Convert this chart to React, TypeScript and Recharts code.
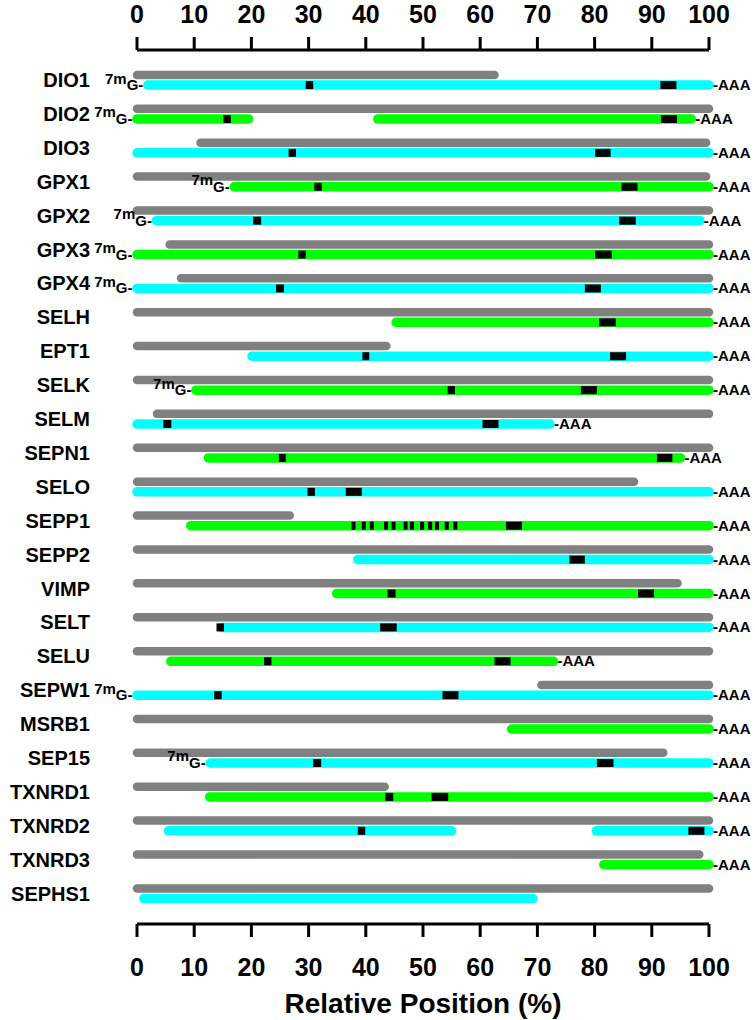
import { ComposedChart, XAxis, YAxis, Scatter, ReferenceLine } from "recharts";

const FONT = '"Liberation Sans", Arial, Helvetica, sans-serif';

const genes = [
  "DIO1", "DIO2", "DIO3", "GPX1", "GPX2", "GPX3", "GPX4", "SELH", "EPT1", "SELK",
  "SELM", "SEPN1", "SELO", "SEPP1", "SEPP2", "VIMP", "SELT", "SELU", "SEPW1", "MSRB1",
  "SEP15", "TXNRD1", "TXNRD2", "TXNRD3", "SEPHS1",
];

// upper grey bar per gene [start, end] in %
const grayBars: [number, number][] = [
  [0, 62.5], [0, 100], [11.1, 99.5], [0, 99.5], [0, 100], [5.7, 100], [7.7, 100], [0, 100], [0, 43.6], [0, 100],
  [3.5, 100], [0, 100], [0, 86.9], [0, 26.7], [0, 100], [0, 94.5], [0, 100], [0, 100], [70.7, 100], [0, 100],
  [0, 92], [0, 43.3], [0, 100], [0, 98.3], [0, 100],
];

// lower coloured bar(s) per gene
const exonBars: [number, number][][] = [
  [[1.9, 100]], [[0, 19.5], [42.1, 96.9]], [[0, 100]], [[17, 100]], [[3.4, 98.4]],
  [[0, 100]], [[0, 100]], [[45.3, 100]], [[20.1, 100]], [[10.3, 100]],
  [[0, 72.2]], [[12.5, 95]], [[0, 100]], [[9.4, 100]], [[38.6, 100]],
  [[34.9, 100]], [[14.8, 100]], [[5.9, 72.8]], [[0, 100]], [[65.5, 100]],
  [[12.8, 100]], [[12.7, 100]], [[5.5, 55], [80.3, 100]], [[81.6, 100]], [[1.2, 69.2]],
];

const exonColor = [
  "cyan", "green", "cyan", "green", "cyan", "green", "cyan", "green", "cyan", "green",
  "cyan", "green", "cyan", "green", "cyan", "green", "cyan", "green", "cyan", "green",
  "cyan", "green", "cyan", "green", "cyan",
];

// black marks on the coloured bar
const secMarks: [number, number][][] = [
  [[29.5, 30.8], [91.5, 94.3]],
  [[15.1, 16.4], [91.6, 94.4]],
  [[26.5, 27.8], [80.1, 82.8]],
  [[31, 32.3], [84.7, 87.5]],
  [[20.3, 21.7], [84.3, 87.2]],
  [[28.2, 29.5], [80.1, 83]],
  [[24.3, 25.7], [78.3, 81.1]],
  [[80.8, 83.7]],
  [[39.4, 40.6], [82.7, 85.5]],
  [[54.3, 55.6], [77.6, 80.4]],
  [[4.6, 6], [60.4, 63.2]],
  [[24.8, 26], [90.9, 93.6]],
  [[29.8, 31.1], [36.5, 39.3]],
  [
    [37.5, 38.2], [39.3, 40], [40.7, 41.4], [43.2, 43.9], [44.5, 45.2], [46.6, 47.3],
    [47.7, 48.4], [49.5, 50.2], [50.9, 51.6], [52.1, 52.8], [53.8, 54.5], [55.3, 56], [64.5, 67.3],
  ],
  [[75.6, 78.3]],
  [[43.8, 45.2], [87.6, 90.4]],
  [[13.9, 15.2], [42.5, 45.4]],
  [[22.2, 23.5], [62.5, 65.3]],
  [[13.5, 14.8], [53.4, 56.2]],
  [],
  [[30.8, 32.2], [80.4, 83.3]],
  [[43.4, 44.8], [51.5, 54.4]],
  [[38.6, 39.9], [96.4, 99.2]],
  [],
  [],
];

const cappedRows = [0, 1, 3, 4, 5, 6, 9, 18, 20]; // 7mG- at start
const tailRows = genes.map((_, i) => i).filter((i) => i !== 24); // -AAA at end

const xTicks = [0, 10, 20, 30, 40, 50, 60, 70, 80, 90, 100];
const rowTicks = genes.map((_, i) => i);

const COLORS: Record<string, string> = { cyan: "#00ffff", green: "#00ff00" };
const OFF = 0.15;

const capPoints = cappedRows.map((i) => ({ x: exonBars[i][0][0], y: i + OFF }));
const tailPoints = tailRows.map((i) => ({ x: exonBars[i][exonBars[i].length - 1][1], y: i + OFF }));

const CapText = (p: any) => (
  <text x={p.cx - 4.5} y={p.cy + 5} textAnchor="end" fontSize={15} fontWeight="bold" fontFamily={FONT} fill="#000">
    <tspan dy={-6.5}>7m</tspan>
    <tspan dy={6.5}>G-</tspan>
  </text>
);

const TailText = (p: any) => (
  <text x={p.cx + 4} y={p.cy + 5} textAnchor="start" fontSize={15} fontWeight="bold" fontFamily={FONT} fill="#000">
    -AAA
  </text>
);

const axisTick = { fill: "#000", fontSize: 25, fontWeight: "bold", fontFamily: FONT };

export default function App() {
  return (
    <div style={{ position: "absolute", left: 0, top: 0 }}>
      <ComposedChart width={755} height={1020} margin={{ top: 0, right: 46, bottom: 0, left: 0 }}>
        <XAxis
          xAxisId="top"
          orientation="top"
          type="number"
          dataKey="x"
          domain={[0, 100]}
          ticks={xTicks}
          interval={0}
          height={50}
          tick={axisTick}
          tickSize={13}
          tickMargin={14}
          axisLine={{ stroke: "#000", strokeWidth: 3 }}
          tickLine={{ stroke: "#000", strokeWidth: 3 }}
        />
        <XAxis
          xAxisId="bottom"
          orientation="bottom"
          type="number"
          dataKey="x"
          domain={[0, 100]}
          ticks={xTicks}
          interval={0}
          height={96}
          tick={axisTick}
          tickSize={13}
          tickMargin={21}
          axisLine={{ stroke: "#000", strokeWidth: 3 }}
          tickLine={{ stroke: "#000", strokeWidth: 3 }}
          label={{
            value: "Relative Position (%)",
            position: "insideBottom",
            offset: 7,
            fill: "#000",
            fontSize: 28,
            fontWeight: "bold",
            fontFamily: FONT,
          }}
        />
        <YAxis
          type="number"
          dataKey="y"
          domain={[-0.885, 24.9]}
          reversed
          ticks={rowTicks}
          interval={0}
          width={137}
          axisLine={false}
          tickLine={false}
          tickSize={0}
          tickMargin={47}
          tickFormatter={(v: number) => genes[v] ?? ""}
          tick={{ fill: "#000", fontSize: 20, fontWeight: "bold", fontFamily: FONT }}
        />

        {grayBars.map(([s, e], i) => (
          <ReferenceLine
            key={`g${i}`}
            xAxisId="bottom"
            segment={[{ x: s, y: i - OFF }, { x: e, y: i - OFF }]}
            stroke="#808080"
            strokeWidth={8.5}
            strokeLinecap="round"
          />
        ))}

        {exonBars.flatMap((segs, i) =>
          segs.map(([s, e], j) => (
            <ReferenceLine
              key={`e${i}-${j}`}
              xAxisId="bottom"
              segment={[{ x: s, y: i + OFF }, { x: e, y: i + OFF }]}
              stroke={COLORS[exonColor[i]]}
              strokeWidth={9.5}
              strokeLinecap="round"
            />
          ))
        )}

        {secMarks.flatMap((marks, i) =>
          marks.map(([s, e], j) => (
            <ReferenceLine
              key={`m${i}-${j}`}
              xAxisId="bottom"
              segment={[{ x: s, y: i + OFF }, { x: e, y: i + OFF }]}
              stroke="#000"
              strokeWidth={8}
              strokeLinecap="butt"
            />
          ))
        )}

        <Scatter xAxisId="top" data={capPoints} shape={CapText} isAnimationActive={false} />
        <Scatter xAxisId="bottom" data={tailPoints} shape={TailText} isAnimationActive={false} />
      </ComposedChart>
    </div>
  );
}
